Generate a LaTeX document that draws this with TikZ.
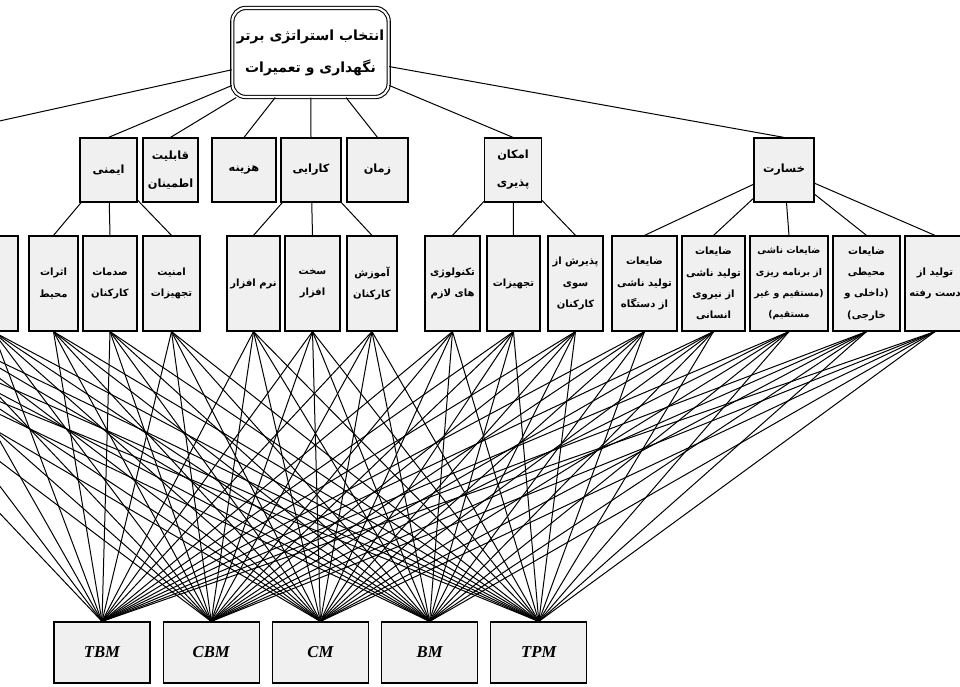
\documentclass[tikz,border=0pt]{standalone}
\usepackage{fontspec}
\usepackage{tikz}
\setmainfont{Liberation Serif}
\newfontfamily\farsi[Script=Arabic]{DejaVu Sans}
\TeXXeTstate=1
\newcommand{\fa}[1]{\beginR#1\endR}
\newcommand{\pxu}{0.75pt}
\usetikzlibrary{positioning}

\begin{document}
\begin{tikzpicture}[
    x=0.75pt, y=-0.75pt,
    goal/.style={
        draw,
        double,
        double distance=1.6pt,
        line width=0.8pt,
        rounded corners=10pt,
        fill=white,
        minimum width=155*\pxu,
        minimum height=89*\pxu,
        align=center,
        font=\farsi\bfseries\fontsize{10.5}{24}\selectfont
    },
    main/.style={
        draw,
        fill=black!6,
        line width=0.9pt,
        minimum height=64*\pxu,
        inner sep=1pt,
        align=center,
        font=\farsi\bfseries\fontsize{8.5}{21}\selectfont
    },
    sub/.style={
        draw,
        fill=black!6,
        line width=0.9pt,
        minimum height=95*\pxu,
        inner sep=1pt,
        align=center,
        font=\farsi\bfseries\fontsize{7.5}{16}\selectfont
    },
    alt/.style={
        draw,
        fill=black!6,
        line width=0.9pt,
        minimum width=96*\pxu,
        minimum height=61*\pxu,
        font=\bfseries\itshape\fontsize{12.5}{14}\selectfont
    },
    link/.style={line width=0.75pt, black}
]
\useasboundingbox (0,0) rectangle (960,686);
\clip (0,0) rectangle (960,686);

\node[goal] (g) at (310.5,52.5) {\fa{انتخاب استراتژی برتر}\\\fa{نگهداری و تعمیرات}};

% main criteria
\node[main, minimum width=60*\pxu] (m0) at (-75,170) {};
\node[main, minimum width=57*\pxu] (m1) at (108.5,170) {\fa{ایمنی}};
\node[main, minimum width=55*\pxu] (m2) at (170.5,170) {\fa{قابلیت}\\\fa{اطمینان}};
\node[main, minimum width=64*\pxu] (m3) at (244,170) {\fa{هزینه}};
\node[main, minimum width=60*\pxu] (m4) at (311,170) {\fa{کارایی}};
\node[main, minimum width=61*\pxu] (m5) at (377.5,170) {\fa{زمان}};
\node[main, minimum width=57*\pxu] (m6) at (513,170) {\fa{امکان}\\\fa{پذیری}};
\node[main, minimum width=60*\pxu] (m7) at (784,170) {\fa{خسارت}};

% sub criteria
\node[sub, minimum width=50*\pxu] (s1) at (-172,283.5) {};
\node[sub, minimum width=50*\pxu] (s2) at (-117,283.5) {};
\node[sub, minimum width=50*\pxu] (s3) at (-62,283.5) {};
\node[sub, minimum width=50*\pxu] (s4) at (-7,283.5) {};
\node[sub, minimum width=49*\pxu] (s5) at (53.5,283.5) {\fa{اثرات}\\\fa{محیط}};
\node[sub, minimum width=54*\pxu] (s6) at (110,283.5) {\fa{صدمات}\\\fa{کارکنان}};
\node[sub, minimum width=57*\pxu] (s7) at (171.5,283.5) {\fa{امنیت}\\\fa{تجهیزات}};
\node[sub, minimum width=53*\pxu] (s8) at (253.5,283.5) {\fa{نرم افزار}};
\node[sub, minimum width=55*\pxu] (s9) at (312.5,283.5) {\fa{سخت}\\\fa{افزار}};
\node[sub, minimum width=50*\pxu] (s10) at (372,283.5) {\fa{آموزش}\\\fa{کارکنان}};
\node[sub, minimum width=55*\pxu] (s11) at (452.5,283.5) {\fa{تکنولوژی}\\\fa{های لازم}};
\node[sub, minimum width=53*\pxu] (s12) at (513.5,283.5) {\fa{تجهیزات}};
\node[sub, minimum width=55*\pxu] (s13) at (575.5,283.5) {\fa{پذیرش از}\\\fa{سوی}\\\fa{کارکنان}};
\node[sub, minimum width=65*\pxu] (s14) at (644.5,283.5) {\fa{ضایعات}\\\fa{تولید ناشی}\\\fa{از دستگاه}};
\node[sub, minimum width=63*\pxu] (s15) at (713.5,283.5) {\fa{ضایعات}\\\fa{تولید ناشی}\\\fa{از نیروی}\\\fa{انسانی}};
\node[sub, minimum width=78*\pxu, font=\farsi\bfseries\fontsize{7}{16}\selectfont] (s16) at (789,283.5) {\fa{ضایعات ناشی}\\\fa{از برنامه ریزی}\\\fa{(مستقیم و غیر}\\\fa{مستقیم)}};
\node[sub, minimum width=67*\pxu] (s17) at (866.5,283.5) {\fa{ضایعات}\\\fa{محیطی}\\\fa{(داخلی و}\\\fa{خارجی)}};
\node[sub, minimum width=60*\pxu] (s18) at (935,283.5) {\fa{تولید از}\\\fa{دست رفته}};

% alternatives
\node[alt] (t1) at (102,652.5) {TBM};
\node[alt, right=9pt of t1] (t2) {CBM};
\node[alt, right=9pt of t2] (t3) {CM};
\node[alt, right=9pt of t3] (t4) {BM};
\node[alt, right=9pt of t4] (t5) {TPM};

\foreach \i in {0,...,7}
    \draw[link] (g) -- (m\i.north);
\foreach \i in {1,...,4}
    \draw[link] (m0) -- (s\i.north);
\foreach \i in {5,6,7}
    \draw[link] (m1) -- (s\i.north);
\foreach \i in {8,9,10}
    \draw[link] (m4) -- (s\i.north);
\foreach \i in {11,12,13}
    \draw[link] (m6) -- (s\i.north);
\foreach \i in {14,...,18}
    \draw[link] (m7) -- (s\i.north);
\foreach \i in {1,...,18}
    \foreach \j in {1,...,5}
        \draw[link] (s\i.south) -- (t\j.north);
\end{tikzpicture}
\end{document}
